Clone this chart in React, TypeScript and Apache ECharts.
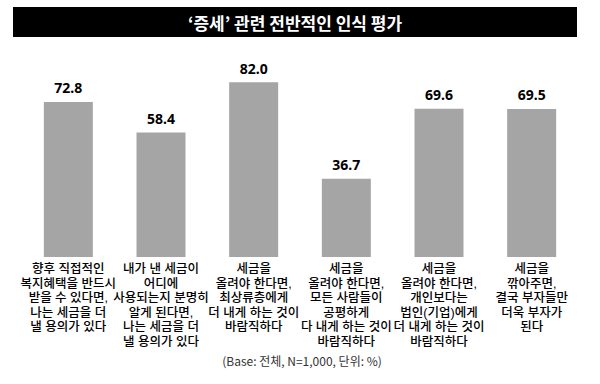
import React, { useEffect, useRef } from "react";
import * as echarts from "echarts";

const titleText = "‘증세’ 관련 전반적인 인식 평가";
const noteText = "(Base: 전체, N=1,000, 단위: %)";
const categories = [
  "향후 직접적인\n복지혜택을 반드시\n받을 수 있다면,\n나는 세금을 더\n낼 용의가 있다",
  "내가 낸 세금이\n어디에\n사용되는지 분명히\n알게 된다면,\n나는 세금을 더\n낼 용의가 있다",
  "세금을\n올려야 한다면,\n최상류층에게\n더 내게 하는 것이\n바람직하다",
  "세금을\n올려야 한다면,\n모든 사람들이\n공평하게\n다 내게 하는 것이\n바람직하다",
  "세금을\n올려야 한다면,\n개인보다는\n법인(기업)에게\n더 내게 하는 것이\n바람직하다",
  "세금을\n깎아주면,\n결국 부자들만\n더욱 부자가\n된다",
];
const values = [72.8, 58.4, 82.0, 36.7, 69.6, 69.5];

export default function App() {
  const ref = useRef<HTMLDivElement>(null);
  useEffect(() => {
    if (!ref.current) return;
    const chart = echarts.init(ref.current, null, { renderer: "svg" });
    chart.setOption({
      animation: false,
      backgroundColor: "#ffffff",
      graphic: [
        {
          type: "rect",
          shape: { x: 13, y: 7, width: 564, height: 30 },
          style: { fill: "#000000" },
          z: 10,
        },
        {
          type: "text",
          x: 295,
          y: 22,
          z: 11,
          style: {
            text: titleText,
            fill: "#ffffff",
            font: "bold 17px 'Noto Sans CJK KR'",
            align: "center",
            verticalAlign: "middle",
          },
        },
        {
          type: "text",
          x: 302,
          y: 360,
          z: 11,
          style: {
            text: noteText,
            fill: "#333333",
            font: "12px 'Noto Sans CJK KR'",
            align: "center",
            verticalAlign: "middle",
          },
        },
      ],
      grid: { left: 22, right: 22, top: 44, bottom: 127 },
      xAxis: {
        type: "category",
        data: categories,
        axisLine: { show: false },
        axisTick: { show: false },
        axisLabel: {
          interval: 0,
          margin: 5,
          color: "#000000",
          fontFamily: "'Liberation Sans', 'Noto Sans CJK KR'",
          fontWeight: 500,
          fontSize: 12.5,
          lineHeight: 14.5,
          verticalAlign: "top",
        },
      },
      yAxis: {
        type: "value",
        min: 0,
        max: 100,
        show: false,
        splitLine: { show: false },
      },
      series: [
        {
          type: "bar",
          data: values,
          barWidth: 49,
          itemStyle: { color: "#a5a5a5" },
          label: {
            show: true,
            position: "top",
            distance: 7,
            color: "#000000",
            fontWeight: "bold",
            fontSize: 14,
            fontFamily: "'Noto Sans', sans-serif",
            formatter: (p: any) => Number(p.value).toFixed(1),
          },
        },
      ],
    });
    return () => chart.dispose();
  }, []);
  return (
    <div
      ref={ref}
      style={{ position: "fixed", left: 0, top: 0, width: 600, height: 384, background: "#fff" }}
    />
  );
}
